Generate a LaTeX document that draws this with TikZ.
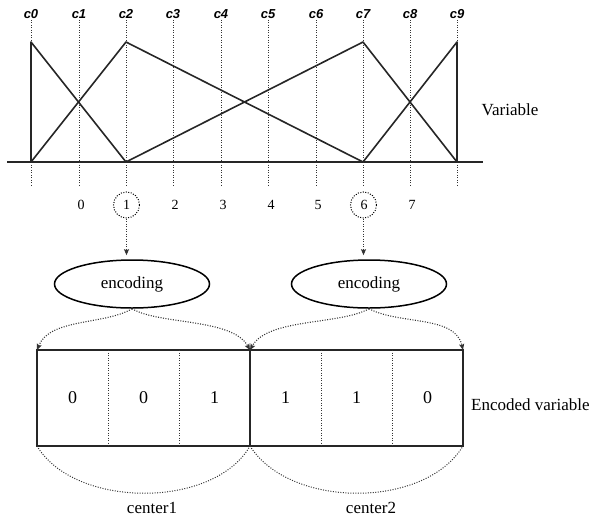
\documentclass[tikz,border=0pt]{standalone}
\usepackage{fontspec}
\setmainfont{Liberation Serif}
\newfontfamily\lblfont{Liberation Sans}
\usetikzlibrary{shapes.geometric,arrows.meta}
\begin{document}
\begin{tikzpicture}[x=1pt,y=-1pt,
  solidln/.style={line width=1.6pt, draw=black!85},
  guide/.style={line width=1pt, dash pattern=on 1pt off 1.5pt, draw=black!80},
  dotarrow/.style={line width=1.1pt, dash pattern=on 1pt off 1.5pt, draw=black!80,
    -{Stealth[length=6pt,width=5pt,inset=1pt]}},
  collabel/.style={font=\lblfont\bfseries\itshape\fontsize{13}{15}\selectfont, inner sep=1pt},
  numlabel/.style={font=\fontsize{14}{16}\selectfont, inner sep=1pt},
  ring/.style={circle, draw, line width=1pt, dash pattern=on 1pt off 1.5pt, minimum size=26pt, inner sep=0pt},
  encnode/.style={ellipse, draw, line width=1.5pt, minimum width=155pt, minimum height=48pt,
    font=\fontsize{17}{20}\selectfont},
  cell/.style={minimum width=71pt, minimum height=96pt, inner sep=0pt, outer sep=0pt,
    font=\fontsize{18}{20}\selectfont},
  caption/.style={font=\fontsize{17}{20}\selectfont, inner sep=1pt}
]
\useasboundingbox (0,0) rectangle (592,520);

% column labels, guide lines and triangle corners
\foreach \i/\x in {0/31,1/79,2/126,3/173,4/221,5/268,6/316,7/363,8/410,9/457} {
  \node[collabel] (c\i) at (\x,14) {c\i};
  \coordinate (b\i) at (\x,162);
  \coordinate (t\i) at (\x,42);
  \coordinate (g\i) at (\x,187);
  \draw[guide] (c\i.south) -- (g\i);
}

% axis
\coordinate (axL) at (7,162);
\coordinate (axR) at (483,162);
\draw[solidln] (axL) -- (axR);

% membership triangles
\draw[solidln, line join=round] (b0) -- (t0) -- (b2);
\draw[solidln, line join=round] (b0) -- (t2) -- (b7);
\draw[solidln, line join=round] (b2) -- (t7) -- (b9);
\draw[solidln, line join=round] (b7) -- (t9) -- (b9);

\node[caption] (var) at (510,110) {Variable};

% interval indices
\foreach \n/\x in {0/81,1/126.5,2/175,3/223,4/271,5/318,6/364,7/412}
  \node[numlabel] (n\n) at (\x,205) {\n};
\node[ring] (k1) at (126.5,205) {};
\node[ring] (k6) at (363.5,205) {};

% encoders
\node[encnode] (e1) at (132,284) {encoding};
\node[encnode] (e2) at (369,284) {encoding};
\draw[dotarrow, shorten >=4pt] (k1.south) -- (k1.south |- e1.north);
\draw[dotarrow, shorten >=4pt] (k6.south) -- (k6.south |- e2.north);

% encoded bit cells
\node[cell] (s1) at (72.5,398) {0};
\node[cell] (s2) at (143.5,398) {0};
\node[cell] (s3) at (214.5,398) {1};
\node[cell] (s4) at (285.5,398) {1};
\node[cell] (s5) at (356.5,398) {1};
\node[cell] (s6) at (427.5,398) {0};
\draw[solidln] (s1.north west) rectangle (s6.south east);
\draw[line width=2pt, draw=black!85] (s1.north west) -- (s1.south west);
\draw[solidln] (s3.north east) -- (s3.south east);
\foreach \c in {s1,s2,s4,s5}
  \draw[guide] (\c.north east) -- (\c.south east);

\node[caption, anchor=west] (encvar) at (470,405) {Encoded variable};

% encoder outputs to the cell groups
\draw[dotarrow] (e1.south) .. controls (105,325) and (50,318) .. (s1.north west);
\draw[dotarrow] (e1.south) .. controls (160,325) and (232,318) .. (s3.north east);
\draw[dotarrow] (e2.south) .. controls (340,325) and (268,318) .. (s4.north west);
\draw[dotarrow] (e2.south) .. controls (400,325) and (455,315) .. (s6.north east);

% braces under the cell groups
\draw[guide] (s1.south west) .. controls (75,509) and (214,509) .. (s3.south east);
\draw[guide] (s4.south west) .. controls (290,509) and (425,509) .. (s6.south east);
\node[caption] (ctr1) at (152,508) {center1};
\node[caption] (ctr2) at (371,508) {center2};
\end{tikzpicture}
\end{document}
